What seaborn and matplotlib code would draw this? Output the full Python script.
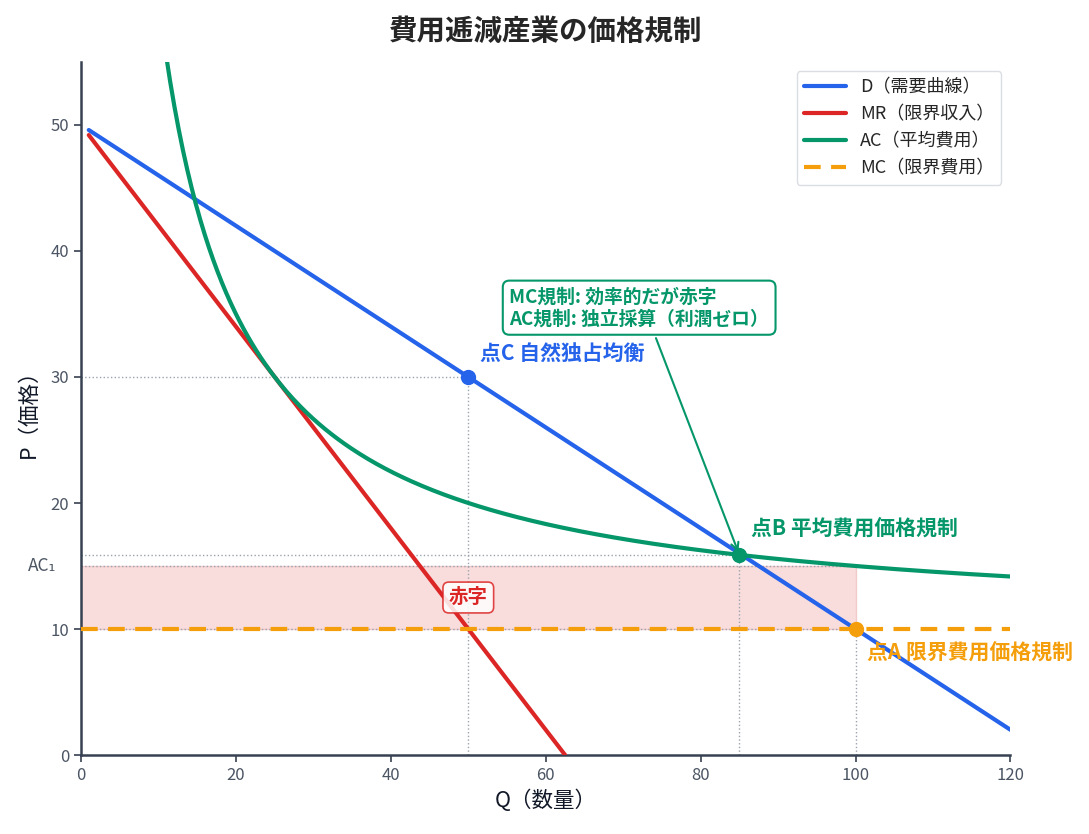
import numpy as np
import pandas as pd
import matplotlib
matplotlib.use("Agg")
import matplotlib.pyplot as plt
import seaborn as sns

# ---- data ----
d_q = [1, 120]            # demand line end points
d_p = [49.6, 2.0]
mr_q = [1, 62.5]          # marginal revenue end points
mr_p = [49.2, 0.0]
mc_level = 10             # constant marginal cost
fixed_cost = 500          # AC = MC + F/Q
ac_q = np.linspace(9, 120, 400)
ac_p = mc_level + fixed_cost / ac_q

pt_c = (50, 30)           # natural monopoly
pt_b = (85, mc_level + fixed_cost / 85)   # AC pricing
pt_a = (100, 10)          # MC pricing
ac1 = 15                  # AC at Q=100

blue = "#2563eb"
red = "#dc2626"
green = "#059669"
orange = "#f59e0b"
gray = "#9ca3af"

sns.set_theme(style="white")
plt.rcParams["font.family"] = ["Noto Sans CJK JP", "DejaVu Sans"]

fig = plt.figure(figsize=(10.89, 8.34), dpi=100)
ax = fig.add_axes([0.0744, 0.0947, 0.8535, 0.831])

# loss rectangle
ax.fill_between([0, pt_a[0]], mc_level, ac1, color="#f3b4b4", alpha=0.45,
                edgecolor="#e8a0a0", lw=1, zorder=1)

# guide lines
dot = dict(color=gray, ls=":", lw=1, zorder=1)
ax.plot([0, pt_c[0]], [pt_c[1], pt_c[1]], **dot)
ax.plot([pt_c[0], pt_c[0]], [0, pt_c[1]], **dot)
ax.plot([0, pt_b[0]], [pt_b[1], pt_b[1]], **dot)
ax.plot([pt_b[0], pt_b[0]], [0, pt_b[1]], **dot)
ax.plot([pt_a[0], pt_a[0]], [0, pt_a[1]], **dot)
ax.plot([0, pt_a[0]], [ac1, ac1], **dot)
ax.plot([0, pt_a[0]], [mc_level, mc_level], **dot)

sns.lineplot(x=d_q, y=d_p, ax=ax, color=blue, lw=3, label="D（需要曲線）", zorder=3)
sns.lineplot(x=mr_q, y=mr_p, ax=ax, color=red, lw=3, label="MR（限界収入）", zorder=3)
sns.lineplot(x=ac_q, y=ac_p, ax=ax, color=green, lw=3, label="AC（平均費用）", zorder=3)
ax.plot([0, 120], [mc_level, mc_level], color=orange, lw=3, ls=(0, (4, 2.5)),
        label="MC（限界費用）", zorder=3)

# points
ax.plot(*pt_c, "o", color=blue, ms=10, zorder=5)
ax.plot(*pt_b, "o", color=green, ms=10, zorder=5)
ax.plot(*pt_a, "o", color=orange, ms=10, zorder=5)

ax.text(51.5, 31.9, "点C 自然独占均衡", color=blue, fontsize=15, fontweight="bold",
        ha="left", va="center")
ax.text(86.5, 17.9, "点B 平均費用価格規制", color=green, fontsize=15, fontweight="bold",
        ha="left", va="center")
ax.text(101.5, 8.1, "点A 限界費用価格規制", color=orange, fontsize=15, fontweight="bold",
        ha="left", va="center")
ax.text(50, 12.5, "赤字", color=red, fontsize=14, fontweight="bold", ha="center", va="center",
        bbox=dict(boxstyle="round,pad=0.3", fc="white", alpha=0.85, ec=red, lw=1.2))
ax.text(-3.2, ac1, "AC₁", color="#4b5563", fontsize=12.5, ha="right", va="center")

ax.annotate("MC規制: 効率的だが赤字\nAC規制: 独立採算（利潤ゼロ）", xy=pt_b, xytext=(55.3, 35.5),
            color=green, fontsize=13.5, fontweight="bold", ha="left", va="center",
            bbox=dict(boxstyle="round,pad=0.35", fc="white", ec=green, lw=1.5),
            arrowprops=dict(arrowstyle="->", color=green, lw=1.5, relpos=(0.55, 0)),
            zorder=6)

ax.set_xlim(0, 120)
ax.set_ylim(0, 55)
ax.set_xticks([0, 20, 40, 60, 80, 100, 120])
ax.set_yticks([0, 10, 20, 30, 40, 50])
ax.tick_params(axis="both", colors="#374151", labelcolor="#4b5563", labelsize=12,
               length=5, width=1.2, left=True, bottom=True)
for s in ["top", "right"]:
    ax.spines[s].set_visible(False)
for s in ["left", "bottom"]:
    ax.spines[s].set_color("#374151")
    ax.spines[s].set_linewidth(1.8)

ax.set_xlabel("Q（数量）", fontsize=15.5, color="#111827", labelpad=4)
ax.set_ylabel("P（価格）", fontsize=15.5, color="#111827", labelpad=8)
ax.set_title("費用逓減産業の価格規制", fontsize=20.5, fontweight="bold", pad=16)

leg = ax.legend(loc="upper right", fontsize=13, frameon=True, edgecolor="#d1d5db",
                fancybox=True, handlelength=2.3)

fig.savefig("out.png", dpi=100)
